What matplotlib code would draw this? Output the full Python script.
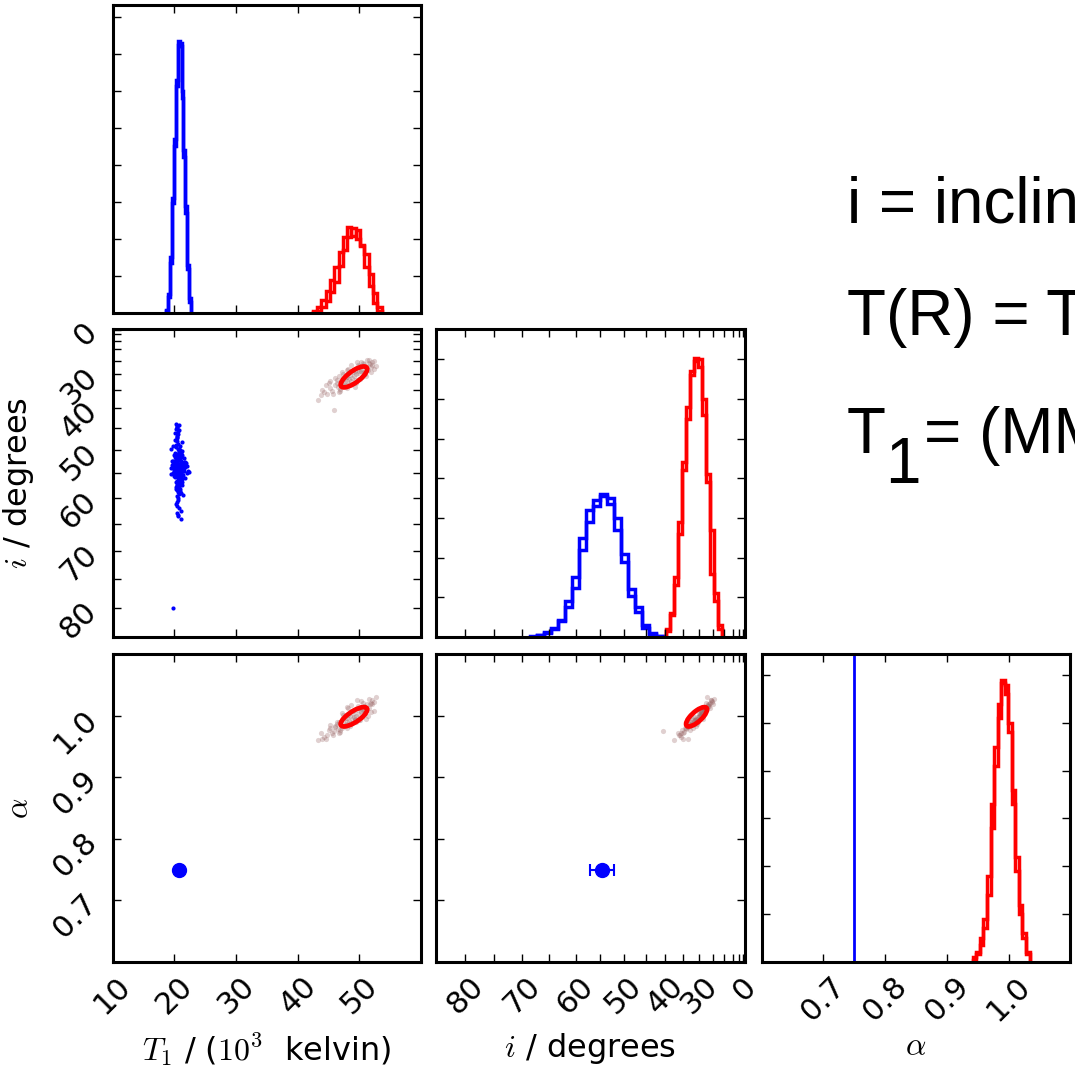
import numpy as np
import matplotlib
matplotlib.use("Agg")
import matplotlib.pyplot as plt
from matplotlib.patches import Circle
from matplotlib.transforms import Affine2D
from matplotlib.ticker import MultipleLocator

plt.rcParams['font.family'] = ['DejaVu Sans']
plt.rcParams['mathtext.fontset'] = 'cm'

# ---------------------------------------------------------------- data
# axis ranges
t1_range = [10, 60]
i_range_deg = [85, 0]            # inclination axis is drawn in cos(i)
alpha_range = [0.6, 1.1]
t1_ticks = [10, 20, 30, 40, 50]
i_major_deg = [80, 70, 60, 50, 40, 30, 0]
i_minor_deg = [75, 65, 55, 45, 35, 25, 20, 15, 10, 5]
alpha_ticks = [0.7, 0.8, 0.9, 1.0]

# marginal histograms (two chains each): bin range + counts
blue_t1_bins = [18.6, 22.76]
blue_t1_a = [4, 22, 68, 149, 225, 306, 367, 360, 300, 220, 145, 65, 20]
blue_t1_b = [3, 25, 75, 155, 235, 315, 362, 365, 290, 210, 135, 60, 15]

red_t1_bins = [42.4, 53.6]
red_t1_a = [3, 8, 18, 30, 45, 62, 82, 102, 116, 104, 112, 90, 62, 36, 14, 3]
red_t1_b = [1, 3, 8, 16, 28, 42, 64, 85, 103, 115, 100, 92, 80, 52, 27, 8]

blue_cosi_bins = [0.365, 0.7583]
blue_cosi_a = [1, 2, 5, 10, 20, 38, 62, 110, 145, 165, 178, 175, 150, 105, 52, 32, 12, 4, 1]
blue_cosi_b = [0, 2, 6, 12, 22, 45, 75, 125, 160, 172, 180, 168, 135, 95, 60, 38, 15, 5, 1]

red_cosi_bins = [0.7675, 0.933]
red_cosi_a = [10, 28, 65, 130, 210, 275, 330, 352, 350, 300, 205, 135, 55, 15]
red_cosi_b = [8, 30, 75, 145, 220, 290, 335, 348, 340, 280, 195, 80, 45, 10]

red_alpha_bins = [0.942, 1.034]
red_alpha_a = [5, 10, 25, 45, 90, 165, 225, 270, 292, 290, 240, 165, 95, 50, 25, 8]
red_alpha_b = [2, 8, 18, 35, 70, 140, 205, 255, 295, 280, 250, 180, 110, 60, 30, 10]

hist_ymax = [416, 388, 322]

# blue fit: samples in (T1, cos i); alpha held fixed
blue_t1 = [
    20.7, 20.4, 21.0, 20.6, 20.9, 20.3, 21.2, 20.5, 20.8, 20.1,
    20.6, 21.1, 20.4, 20.7, 20.2, 21.3, 20.9, 20.5, 20.0, 20.8,
    21.0, 20.6, 20.3, 21.4, 20.7, 19.9, 20.5, 21.1, 20.8, 20.4,
    20.2, 20.9, 21.2, 20.6, 20.1, 20.7, 21.5, 20.3, 20.8, 21.0,
    19.8, 20.5, 20.9, 20.6, 21.3, 20.2, 20.7, 20.4, 21.1, 20.0,
    20.8, 21.6, 20.5, 20.3, 20.9, 19.7, 20.6, 21.2, 20.4, 20.7,
    21.0, 20.1, 20.8, 20.5, 21.4, 20.3, 20.6, 19.9, 21.1, 20.7,
    20.2, 20.9, 20.5, 21.7, 20.4, 20.8, 20.0, 21.2, 20.6, 20.3,
    21.0, 20.7, 19.6, 20.5, 21.3, 20.9, 20.1, 20.6, 21.8, 20.4,
    20.8, 20.2, 21.1, 20.5, 19.8, 20.7, 21.4, 20.3, 20.9, 20.6,
    21.9, 19.5, 20.6, 21.0, 20.4, 20.1, 21.2, 20.8, 19.7, 20.5,
    22.1, 20.3, 21.5, 20.9, 19.4, 20.7, 21.0, 20.2, 22.4, 20.6,
    20.5, 20.9, 20.3, 20.7, 21.1, 20.6, 20.4, 20.8, 21.0, 20.2,
    20.6, 20.9, 20.5, 21.2, 20.3, 20.7, 20.0, 20.8, 21.3, 20.4,
    20.6, 21.0, 20.2, 20.7, 20.5, 21.1, 19.9, 20.8, 20.4, 20.6,
    21.4, 20.3, 20.9, 20.1, 20.7, 21.6, 20.5, 20.2, 21.0, 20.8,
    19.7, 20.6, 21.2, 20.4, 20.9, 20.0, 21.5, 20.3, 20.7, 22.0,
    19.6, 20.8, 21.3, 20.5, 19.5, 21.8, 20.6, 20.1, 22.2, 20.9,
    19.8,
]
blue_cosi = [
    0.585, 0.612, 0.560, 0.597, 0.571, 0.630, 0.548, 0.603, 0.579, 0.622,
    0.541, 0.593, 0.566, 0.618, 0.587, 0.555, 0.641, 0.575, 0.603, 0.532,
    0.609, 0.583, 0.650, 0.568, 0.594, 0.626, 0.551, 0.580, 0.615, 0.538,
    0.600, 0.562, 0.590, 0.660, 0.573, 0.520, 0.606, 0.578, 0.636, 0.558,
    0.596, 0.545, 0.621, 0.569, 0.600, 0.670, 0.512, 0.588, 0.633, 0.577,
    0.553, 0.599, 0.681, 0.527, 0.611, 0.574, 0.645, 0.586, 0.505, 0.616,
    0.563, 0.692, 0.592, 0.536, 0.604, 0.657, 0.494, 0.582, 0.628, 0.547,
    0.703, 0.571, 0.601, 0.559, 0.486, 0.624, 0.589, 0.665, 0.530, 0.608,
    0.576, 0.715, 0.598, 0.475, 0.638, 0.565, 0.607, 0.518, 0.590, 0.684,
    0.544, 0.613, 0.462, 0.596, 0.652, 0.581, 0.509, 0.625, 0.567, 0.698,
    0.603, 0.570, 0.448, 0.620, 0.592, 0.672, 0.537, 0.584, 0.610, 0.455,
    0.595, 0.718, 0.578, 0.525, 0.643, 0.586, 0.438, 0.614, 0.575, 0.600,
    0.568, 0.601, 0.547, 0.629, 0.583, 0.559, 0.614, 0.592, 0.540, 0.607,
    0.575, 0.653, 0.524, 0.598, 0.581, 0.637, 0.564, 0.612, 0.589, 0.668,
    0.543, 0.606, 0.596, 0.521, 0.677, 0.570, 0.594, 0.551, 0.623, 0.690,
    0.580, 0.533, 0.613, 0.561, 0.645, 0.587, 0.710, 0.605, 0.515, 0.579,
    0.600, 0.498, 0.626, 0.708, 0.556, 0.593, 0.617, 0.482, 0.700, 0.572,
    0.610, 0.470, 0.566, 0.713, 0.588, 0.605, 0.445, 0.634, 0.579, 0.520,
    0.173,
]
blue_best_t1 = 20.76
blue_best_cosi = 0.577
blue_cosi_err = 0.0355
blue_alpha = 0.75

# red fit: samples in (T1, cos i, alpha)
red_t1 = [49.1, 48.3, 50.2, 47.6, 51.0, 46.5, 49.8, 48.8, 52.0, 45.6,
          47.0, 50.6, 48.0, 49.5, 51.6, 44.8, 46.1, 49.3, 50.9, 47.9,
          43.2, 45.9, 52.4, 50.0, 48.5, 47.3, 49.0, 51.3, 46.8, 50.4,
          48.1, 49.7, 45.2, 51.8, 47.5, 50.7, 48.6, 46.3, 49.9, 52.1,
          44.3, 48.9, 47.1, 50.3, 49.4, 51.2, 46.9, 48.4, 50.8, 47.8,
          44.0, 46.7, 51.9, 49.6, 43.8, 47.7, 52.6, 45.3, 50.1, 48.2,
          46.0, 51.5, 47.4, 49.2, 44.6, 50.5, 48.7, 46.6, 52.3, 45.0,
          49.9, 47.2, 51.0, 48.0, 50.3, 46.4, 49.4, 47.9, 51.7, 45.7]
red_cosi = [0.862, 0.851, 0.875, 0.842, 0.884, 0.828, 0.869, 0.855, 0.893, 0.817,
            0.838, 0.871, 0.857, 0.848, 0.898, 0.806, 0.833, 0.877, 0.866, 0.846,
            0.790, 0.760, 0.905, 0.889, 0.836, 0.852, 0.880, 0.878, 0.822, 0.858,
            0.870, 0.893, 0.825, 0.886, 0.830, 0.896, 0.845, 0.840, 0.853, 0.902,
            0.812, 0.873, 0.847, 0.882, 0.839, 0.907, 0.815, 0.864, 0.874, 0.859,
            0.818, 0.861, 0.872, 0.902, 0.803, 0.835, 0.889, 0.846, 0.851, 0.881,
            0.855, 0.909, 0.868, 0.829, 0.833, 0.898, 0.892, 0.812, 0.881, 0.839,
            0.876, 0.872, 0.860, 0.826, 0.903, 0.850, 0.867, 0.880, 0.895, 0.808]
red_alpha = [0.998, 0.991, 1.006, 0.985, 1.010, 0.978, 1.002, 0.994, 1.018, 0.972,
             0.987, 1.009, 0.990, 1.000, 1.013, 0.968, 0.981, 0.995, 1.004, 0.996,
             0.960, 0.975, 1.022, 1.012, 0.983, 0.992, 1.007, 0.999, 0.974, 0.997,
             1.001, 1.015, 0.979, 1.020, 0.983, 1.016, 0.988, 0.989, 0.993, 1.025,
             0.965, 1.003, 0.979, 1.008, 0.990, 1.019, 0.977, 0.999, 1.011, 0.986,
             0.962, 0.990, 1.005, 1.026, 0.971, 0.996, 1.030, 0.984, 0.992, 1.012,
             0.983, 1.027, 1.001, 0.993, 0.962, 1.021, 1.017, 0.971, 1.008, 0.976,
             1.013, 1.004, 0.995, 0.980, 1.024, 0.987, 1.009, 1.014, 1.018, 0.968]
# 1-sigma contour of the red posterior: mean, sigma, correlation (T1, cos i, alpha)
red_mean = [49.1, 0.858, 0.998]
red_sigma = [2.15, 0.031, 0.0157]
red_corr = [[1.0, 0.75, 0.75],
            [0.75, 1.0, 0.75],
            [0.75, 0.75, 1.0]]

# ---------------------------------------------------------------- figure
BLUE = '#0000ff'
RED = '#ff0000'
GREY = '#9a6666'
TICK_FS = 22
LABEL_FS = 23

fig = plt.figure(figsize=(10.75, 10.71), dpi=100)
col_left = [0.1048, 0.4056, 0.7086]
row_bottom = [0.7078, 0.4052, 0.1018]
AW, AH = 0.2870, 0.2876


def make_ax(r, c):
    ax = fig.add_axes([col_left[c], row_bottom[r], AW, AH])
    for s in ax.spines.values():
        s.set_linewidth(2.2)
    ax.tick_params(which='both', direction='in', top=True, right=True,
                   length=6, width=1.0, labelsize=TICK_FS, pad=7)
    ax.tick_params(axis='both', labelrotation=45)
    return ax


cos = lambda d: np.cos(np.radians(d))


def t1_axis(ax, which):
    getattr(ax, f'set_{which}lim')(t1_range)
    getattr(ax, f'set_{which}ticks')(t1_ticks)


def i_axis(ax, which):
    getattr(ax, f'set_{which}lim')(cos(np.array(i_range_deg)))
    getattr(ax, f'set_{which}ticks')(cos(np.array(i_major_deg)),
                                      [str(d) for d in i_major_deg])
    getattr(ax, f'set_{which}ticks')(cos(np.array(i_minor_deg)), minor=True)


def alpha_axis(ax, which):
    getattr(ax, f'set_{which}lim')(alpha_range)
    getattr(ax, f'set_{which}ticks')(alpha_ticks)


def hist_pair(ax, rng, a, b, color):
    edges = np.linspace(rng[0], rng[1], len(a) + 1)
    ax.stairs(a, edges, color=color, lw=2.5)
    ax.stairs(b, edges, color=color, lw=2.5)


def contour(ax, jx, jy):
    sx, sy = red_sigma[jx], red_sigma[jy]
    rho = red_corr[jx][jy]
    m = Affine2D.from_values(sx, rho * sy, 0, sy * np.sqrt(1 - rho ** 2),
                             red_mean[jx], red_mean[jy])
    ax.add_patch(Circle((0, 0), 1.0, fill=False, ec=RED, lw=3.4,
                        transform=m + ax.transData, zorder=4))


def cloud(ax, x, y):
    ax.scatter(x, y, s=14, color=GREY, alpha=0.3, lw=0, zorder=2)


# --- (0,0) T1 marginal
ax00 = make_ax(0, 0)
hist_pair(ax00, blue_t1_bins, blue_t1_a, blue_t1_b, BLUE)
hist_pair(ax00, red_t1_bins, red_t1_a, red_t1_b, RED)
t1_axis(ax00, 'x')
ax00.set_ylim(0, hist_ymax[0])
ax00.yaxis.set_major_locator(MultipleLocator(50))
ax00.tick_params(labelbottom=False, labelleft=False)

# --- (1,0) T1 vs i
ax10 = make_ax(1, 0)
cloud(ax10, red_t1, red_cosi)
ax10.scatter(blue_t1, blue_cosi, s=9, color=BLUE, lw=0, zorder=3)
contour(ax10, 0, 1)
t1_axis(ax10, 'x')
i_axis(ax10, 'y')
ax10.tick_params(labelbottom=False)
ax10.set_ylabel(r'$i$ / degrees', fontsize=LABEL_FS)

# --- (1,1) i marginal
ax11 = make_ax(1, 1)
hist_pair(ax11, blue_cosi_bins, blue_cosi_a, blue_cosi_b, BLUE)
hist_pair(ax11, red_cosi_bins, red_cosi_a, red_cosi_b, RED)
i_axis(ax11, 'x')
ax11.set_ylim(0, hist_ymax[1])
ax11.yaxis.set_major_locator(MultipleLocator(50))
ax11.tick_params(labelbottom=False, labelleft=False)

# --- (2,0) T1 vs alpha
ax20 = make_ax(2, 0)
cloud(ax20, red_t1, red_alpha)
contour(ax20, 0, 2)
ax20.plot([blue_best_t1], [blue_alpha], 'o', color=BLUE, ms=10, mec=BLUE)
t1_axis(ax20, 'x')
alpha_axis(ax20, 'y')
ax20.set_xlabel(r'$T_1$ / ($10^3$  kelvin)', fontsize=LABEL_FS)
ax20.set_ylabel(r'$\alpha$', fontsize=LABEL_FS)

# --- (2,1) i vs alpha
ax21 = make_ax(2, 1)
cloud(ax21, red_cosi, red_alpha)
contour(ax21, 1, 2)
ax21.errorbar([blue_best_cosi], [blue_alpha], xerr=[blue_cosi_err], fmt='o',
              color=BLUE, ms=10, capsize=4, elinewidth=1.5, capthick=1.5)
i_axis(ax21, 'x')
alpha_axis(ax21, 'y')
ax21.tick_params(labelleft=False)
ax21.set_xlabel(r'$i$ / degrees', fontsize=LABEL_FS)

# --- (2,2) alpha marginal
ax22 = make_ax(2, 2)
hist_pair(ax22, red_alpha_bins, red_alpha_a, red_alpha_b, RED)
ax22.axvline(blue_alpha, color=BLUE, lw=2.0)
alpha_axis(ax22, 'x')
ax22.set_ylim(0, hist_ymax[2])
ax22.yaxis.set_major_locator(MultipleLocator(50))
ax22.tick_params(labelleft=False)
ax22.set_xlabel(r'$\alpha$', fontsize=LABEL_FS)

for ax in (ax10, ax20):
    ax.yaxis.set_label_coords(-0.25, 0.5)
for ax in (ax20, ax21, ax22):
    ax.xaxis.set_label_coords(0.5, -0.225)

# --- notes on the right
note_kw = dict(family=['Liberation Sans', 'DejaVu Sans'], fontsize=46,
               ha='left', va='baseline')
fig.text(0.788, 0.7927, 'i = inclination', **note_kw)
fig.text(0.788, 0.6872, 'T(R) = T', **note_kw)
fig.text(0.788, 0.5770, 'T', **note_kw)
fig.text(0.8235, 0.5490, '1', **note_kw)
fig.text(0.8600, 0.5770, '= (MM', **note_kw)

fig.savefig('out.png', dpi=100)
